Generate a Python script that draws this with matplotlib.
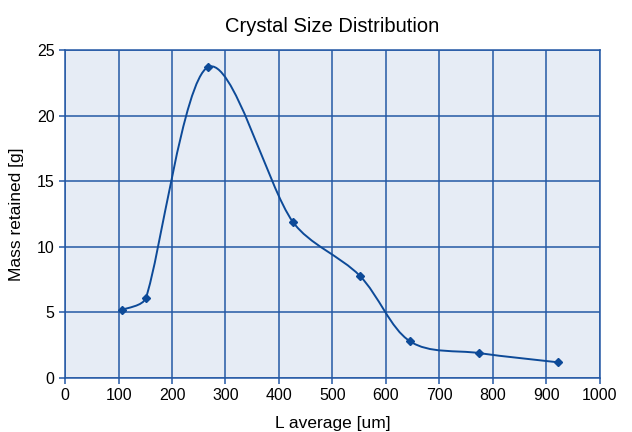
import numpy as np
import matplotlib.pyplot as plt
from matplotlib.path import Path
from matplotlib.patches import PathPatch

plt.rcParams['font.family'] = ['Liberation Sans', 'DejaVu Sans']

l_avg = [107, 151, 267, 426, 551, 645, 774, 921]
mass = [5.2, 6.1, 23.7, 11.9, 7.8, 2.8, 1.9, 1.2]

def smooth_path(ax, x, y):
    # smoothed line like a spreadsheet chart: Bezier segments built in pixel space,
    # control arms limited to a third of the segment length
    tr = ax.transData
    p = tr.transform(np.column_stack([x, y]).astype(float))
    n = len(p)

    def arm(v, seg):
        L = np.hypot(*v)
        lim = seg / 3
        return v * (lim / L) if L > lim else v

    verts = [p[0]]
    codes = [Path.MOVETO]
    for i in range(n - 1):
        p0 = p[i - 1] if i > 0 else p[i]
        p3 = p[i + 2] if i + 2 < n else p[i + 1]
        seg = np.hypot(*(p[i + 1] - p[i]))
        c1 = p[i] + arm((p[i + 1] - p0) / 6, seg)
        c2 = p[i + 1] - arm((p3 - p[i]) / 6, seg)
        verts += [c1, c2, p[i + 1]]
        codes += [Path.CURVE4] * 3
    verts = tr.inverted().transform(np.array(verts))
    return Path(verts, codes)

line_col = '#0d4a98'
grid_col = '#2459a5'

fig = plt.figure(figsize=(6.32, 4.32), dpi=100)
ax = fig.add_axes([0.103, 0.125, 0.846, 0.759])
ax.set_facecolor('#e6ecf5')

ax.set_xlim(0, 1000)
ax.set_ylim(0, 25)
ax.set_xticks(np.arange(0, 1001, 100))
ax.set_yticks(np.arange(0, 26, 5))

ax.add_patch(PathPatch(smooth_path(ax, l_avg, mass), fill=False, edgecolor=line_col, lw=1.4, zorder=3))
ax.plot(l_avg, mass, ls='none', marker='D', ms=4, color=line_col, zorder=4)

ax.grid(True, color=grid_col, lw=1.1)
ax.set_axisbelow(True)
for s in ax.spines.values():
    s.set_color(grid_col)
    s.set_linewidth(1.1)
ax.tick_params(colors=grid_col, labelcolor='black', labelsize=11.5, length=4, width=1.1)

ax.set_title('Crystal Size Distribution', fontsize=14.5, pad=13)
ax.set_xlabel('L average [um]', fontsize=12.5, labelpad=9)
ax.set_ylabel('Mass retained [g]', fontsize=12.5, labelpad=9)

plt.savefig('out.png', dpi=100)
